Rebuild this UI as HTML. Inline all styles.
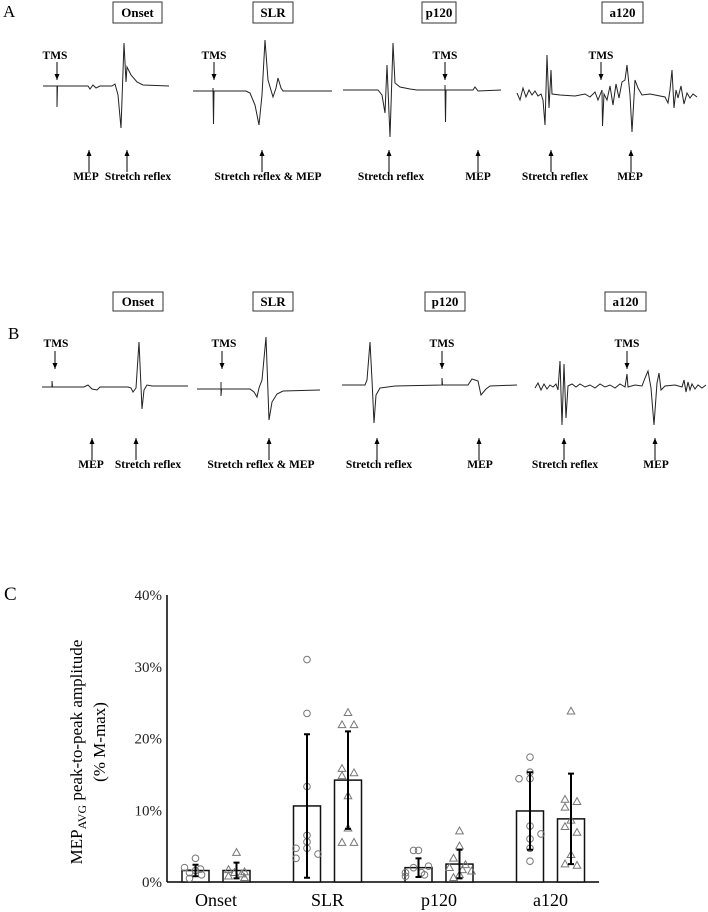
<!DOCTYPE html>
<html><head><meta charset="utf-8"><style>
body{margin:0;background:#fff}
svg{display:block;font-family:"Liberation Serif",serif}
.lb{font-weight:bold;font-size:11.5px}
.bx{fill:none;stroke:#333;stroke-width:1}
.tr{fill:none;stroke:#222;stroke-width:1}
</style></head><body>
<svg id="fig" width="708" height="912" viewBox="0 0 708 912">
<defs><marker id="ah" markerWidth="6" markerHeight="6" refX="6" refY="3" orient="auto" markerUnits="userSpaceOnUse"><path d="M0,0.5 L6,3 L0,5.5 Z" fill="#000"/></marker></defs>

<!-- Panel A -->
<g>
<text x="3" y="17" font-size="17">A</text>
<g>
<rect class="bx" x="113" y="2" width="49" height="21"/><text class="lb" x="137.5" y="17" text-anchor="middle" style="font-size:13px">Onset</text>
<rect class="bx" x="253" y="2" width="40" height="21"/><text class="lb" x="273" y="17" text-anchor="middle" style="font-size:13px">SLR</text>
<rect class="bx" x="422" y="2" width="34" height="21"/><text class="lb" x="439" y="17" text-anchor="middle" style="font-size:13px">p120</text>
<rect class="bx" x="602" y="2" width="41" height="21"/><text class="lb" x="622.5" y="17" text-anchor="middle" style="font-size:13px">a120</text>
</g>
<g>
<path class="tr" d="M43,86 L57,86 L57,107 L57.5,86 L88,86 L90,89 L93,85 L96,88 L100,86 L112,86 L115,84 L118,95 L121,128 L124,43 L126,82 L127,67 L131,75 L137,82 L143,85 L169,86"/>
<path class="tr" d="M193,91 L213,91 L213,88 L213.5,124 L214,91 L246,91 L250,93 L255,105 L259,125 L262,95 L265,40 L268,80 L273,97 L276,88 L278,78 L281,88 L283,91 L332,91"/>
<path class="tr" d="M343,90 L378,90 L382,95 L385,113 L387,65 L390,137 L393,43 L395,83 L400,87 L410,89 L417,90 L445,90 L445,85 L445.5,122 L446,90 L473,90 L475,87 L478,91 L501,90"/>
<path class="tr" d="M517,93 L520,100 L523,88 L526,97 L529,90 L532,95 L535,91 L538,96 L541,94 L543,100 L545,125 L547,55 L549,108 L551,70 L552,94 L560,95 L575,96 L585,94 L590,97 L595,92 L598,100 L602,90 L602.5,126 L604,94 L607,100 L610,86 L613,105 L616,84 L619,98 L622,82 L625,80 L627,65 L630,95 L632,132 L635,80 L638,88 L642,95 L650,94 L665,97 L668,103 L670,90 L672,70 L674,108 L676,90 L678,98 L681,86 L684,104 L687,93 L690,98 L693,94 L697,97"/>
</g>
<g>
<text class="lb" x="55" y="59" text-anchor="middle">TMS</text><line x1="57" y1="62" x2="57" y2="80" stroke="#000" marker-end="url(#ah)"/>
<text class="lb" x="214" y="59" text-anchor="middle">TMS</text><line x1="214" y1="62" x2="214" y2="80" stroke="#000" marker-end="url(#ah)"/>
<text class="lb" x="445" y="59" text-anchor="middle">TMS</text><line x1="445" y1="62" x2="445" y2="80" stroke="#000" marker-end="url(#ah)"/>
<text class="lb" x="601" y="59" text-anchor="middle">TMS</text><line x1="601" y1="62" x2="601" y2="80" stroke="#000" marker-end="url(#ah)"/>
</g>
<g>
<line x1="89" y1="172" x2="89" y2="150" stroke="#000" marker-end="url(#ah)"/>
<line x1="127" y1="172" x2="127" y2="150" stroke="#000" marker-end="url(#ah)"/>
<line x1="262" y1="172" x2="262" y2="150" stroke="#000" marker-end="url(#ah)"/>
<line x1="389" y1="172" x2="389" y2="150" stroke="#000" marker-end="url(#ah)"/>
<line x1="478" y1="172" x2="478" y2="150" stroke="#000" marker-end="url(#ah)"/>
<line x1="551" y1="172" x2="551" y2="150" stroke="#000" marker-end="url(#ah)"/>
<line x1="631" y1="172" x2="631" y2="150" stroke="#000" marker-end="url(#ah)"/>
<text class="lb" x="86" y="180" text-anchor="middle">MEP</text>
<text class="lb" x="138" y="180" text-anchor="middle">Stretch reflex</text>
<text class="lb" x="268" y="180" text-anchor="middle">Stretch reflex &amp; MEP</text>
<text class="lb" x="391" y="180" text-anchor="middle">Stretch reflex</text>
<text class="lb" x="478" y="180" text-anchor="middle">MEP</text>
<text class="lb" x="555" y="180" text-anchor="middle">Stretch reflex</text>
<text class="lb" x="630" y="180" text-anchor="middle">MEP</text>
</g>
</g>

<!-- Panel B -->
<g>
<text x="8" y="339" font-size="17">B</text>
<g>
<rect class="bx" x="113" y="292" width="50" height="19"/><text class="lb" x="138" y="306" text-anchor="middle" style="font-size:13px">Onset</text>
<rect class="bx" x="253" y="292" width="40" height="19"/><text class="lb" x="273" y="306" text-anchor="middle" style="font-size:13px">SLR</text>
<rect class="bx" x="425" y="292" width="40" height="19"/><text class="lb" x="445" y="306" text-anchor="middle" style="font-size:13px">p120</text>
<rect class="bx" x="605" y="292" width="41" height="19"/><text class="lb" x="625.5" y="306" text-anchor="middle" style="font-size:13px">a120</text>
</g>
<g>
<path class="tr" d="M42,387 L52,387 L52,381 L52.5,387 L84,387 L88,385 L92,389 L97,390 L100,387 L128,387 L131,388 L133,392 L136,388 L139,342 L142,409 L144,390 L147,385 L152,386 L188,386"/>
<path class="tr" d="M197,389 L221,389 L221,382 L221,396 L221.5,389 L250,389 L254,392 L257,397 L259,388 L262,380 L266,337 L269,420 L272,402 L277,394 L283,391 L320,390"/>
<path class="tr" d="M342,385 L365,385 L367,380 L370,342 L372,380 L374,423 L376,395 L380,388 L395,386 L442,385 L442,378 L442.5,385 L468,385 L472,379 L478,381 L481,395 L486,389 L490,386 L517,385"/>
<path class="tr" d="M535,388 L538,383 L541,390 L544,384 L547,389 L550,385 L553,387 L556,384 L558,390 L560,361 L562,425 L564,364 L566,418 L568,386 L572,384 L576,387 L580,384 L585,387 L590,385 L595,388 L600,384 L605,387 L610,385 L615,388 L620,384 L625,387 L627,374 L628,387 L635,385 L642,386 L645,378 L648,371 L651,388 L654,425 L657,383 L659,373 L661,390 L665,386 L675,385 L682,387 L684,380 L686,392 L688,382 L690,390 L692,384 L695,389 L698,385 L702,388 L706,385"/>
</g>
<g>
<text class="lb" x="56" y="347" text-anchor="middle">TMS</text><line x1="55" y1="351" x2="55" y2="369" stroke="#000" marker-end="url(#ah)"/>
<text class="lb" x="224" y="347" text-anchor="middle">TMS</text><line x1="222" y1="351" x2="222" y2="369" stroke="#000" marker-end="url(#ah)"/>
<text class="lb" x="442" y="347" text-anchor="middle">TMS</text><line x1="442" y1="351" x2="442" y2="369" stroke="#000" marker-end="url(#ah)"/>
<text class="lb" x="627" y="347" text-anchor="middle">TMS</text><line x1="627" y1="351" x2="627" y2="369" stroke="#000" marker-end="url(#ah)"/>
</g>
<g>
<line x1="92" y1="460" x2="92" y2="438" stroke="#000" marker-end="url(#ah)"/>
<line x1="136" y1="460" x2="136" y2="438" stroke="#000" marker-end="url(#ah)"/>
<line x1="269" y1="460" x2="269" y2="438" stroke="#000" marker-end="url(#ah)"/>
<line x1="377" y1="460" x2="377" y2="438" stroke="#000" marker-end="url(#ah)"/>
<line x1="479" y1="460" x2="479" y2="438" stroke="#000" marker-end="url(#ah)"/>
<line x1="564" y1="460" x2="564" y2="438" stroke="#000" marker-end="url(#ah)"/>
<line x1="655" y1="460" x2="655" y2="438" stroke="#000" marker-end="url(#ah)"/>
<text class="lb" x="91" y="468" text-anchor="middle">MEP</text>
<text class="lb" x="148" y="468" text-anchor="middle">Stretch reflex</text>
<text class="lb" x="261" y="468" text-anchor="middle">Stretch reflex &amp; MEP</text>
<text class="lb" x="379" y="468" text-anchor="middle">Stretch reflex</text>
<text class="lb" x="480" y="468" text-anchor="middle">MEP</text>
<text class="lb" x="565" y="468" text-anchor="middle">Stretch reflex</text>
<text class="lb" x="656" y="468" text-anchor="middle">MEP</text>
</g>
</g>

<!-- Panel C -->
<g id="panelC">
<text x="4" y="600" font-size="19">C</text>
<g font-size="17">
<text transform="translate(82,752) rotate(-90)" text-anchor="middle">MEP<tspan font-size="12" dy="4">AVG</tspan><tspan dy="-4"> peak-to-peak amplitude</tspan></text>
<text transform="translate(105,742) rotate(-90)" text-anchor="middle">(% M-max)</text>
</g>
</g>
</svg>
<script>
const categories = ["Onset","SLR","p120","a120"];
const yTicks = [0,10,20,30,40];
const meanA = [1.6,10.6,2.0,9.9];
const errA = [0.8,10.0,1.3,5.4];
const meanB = [1.6,14.2,2.5,8.8];
const errB = [1.1,6.8,2.0,6.3];
const ptsA = [[3.3,2.0,1.8,1.6,1.3,1.0,0.5],[31.0,23.5,13.3,6.5,5.6,4.7,4.7,3.9,3.3],[4.4,4.4,2.2,2.0,1.3,1.3,1.0,0.8],[17.4,15.3,14.4,14.4,7.8,6.7,6.0,4.7,2.9]];
const jitA = [[0,-11,5,0,-6,6,-6],[0,0,0,0,0,-11,0,11,-11],[-5,0,10,-5,3,-13,6,-13],[0,0,-11,0,0,11,0,0,0]];
const ptsB = [[4.1,1.7,1.4,1.3,1.1,0.8,0.6],[23.6,21.9,21.9,15.8,15.2,14.8,12.0,7.5,5.5,5.5],[7.1,5.0,3.3,2.4,2.0,1.7,1.5,1.0,0.6],[23.8,11.5,11.2,10.4,8.6,7.7,6.9,3.8,2.5,2.3]];
const jitB = [[0,-8,8,-2,5,-8,8],[0,-6,6,-6,6,-6,0,0,-6,6],[0,0,-6,6,-10,3,12,0,-6],[0,-6,6,-6,0,-6,6,0,-6,6]];
const NS = "http://www.w3.org/2000/svg";
const g = document.getElementById("panelC");
const x0 = 167, yBase = 882, yTop = 595, xEnd = 599;
function yS(v){ return yBase - (v/40)*(yBase-yTop); }
function gx(i){ return 216 + i*111.5; }
function mk(tag, attrs, parent){ const e=document.createElementNS(NS,tag); for(const k in attrs) e.setAttribute(k,attrs[k]); (parent||g).appendChild(e); return e; }
const axes = mk("g",{});


const ya = mk("line",{x1:x0,y1:yTop,x2:x0,y2:yBase,stroke:"#000","stroke-width":1.5},axes);


const xa = mk("line",{x1:x0,y1:yBase,x2:xEnd,y2:yBase,stroke:"#000","stroke-width":1.5},axes);


yTicks.forEach(t=>{
  const tx = mk("text",{x:162,y:yS(t)+5,"text-anchor":"end","font-size":15,fill:"#222"},axes);
  tx.textContent = t+"%";
  
  
});
categories.forEach((c,i)=>{
  const tx = mk("text",{x:gx(i),y:906,"text-anchor":"middle","font-size":18},axes);
  tx.textContent = c;
  
  
});
function drawSeries(means, errs, pts, jit, off, shape, name){
  const sg = mk("g",{});
  
  
  means.forEach((m,i)=>{
    const cx = gx(i)+off;
    const bar = mk("rect",{x:cx-13.5,y:yS(m),width:27,height:yBase-yS(m),fill:"#fff",stroke:"#111","stroke-width":1.5},sg);
    
    
    pts[i].forEach((v,j)=>{
      const px = cx + jit[i][j], py = yS(v);
      let p;
      if(shape==="circle") p = mk("circle",{cx:px,cy:py,r:3.3,fill:"none",stroke:"#777","stroke-width":1},sg);
      else p = mk("polygon",{points:(px)+","+(py-4)+" "+(px-3.8)+","+(py+2.8)+" "+(px+3.8)+","+(py+2.8),fill:"none",stroke:"#777","stroke-width":1},sg);
      
      
    });
    const hi = yS(m+errs[i]), lo = yS(Math.max(m-errs[i],0));
    const eb = mk("path",{d:"M"+cx+","+hi+"V"+lo+"M"+(cx-3)+","+hi+"H"+(cx+3)+"M"+(cx-3)+","+lo+"H"+(cx+3),stroke:"#000","stroke-width":2,fill:"none"},sg);
    
    
  });
}
drawSeries(meanA, errA, ptsA, jitA, -20.5, "circle", "series-circles");
drawSeries(meanB, errB, ptsB, jitB, 20.5, "triangle", "series-triangles");
</script>
</body></html>
